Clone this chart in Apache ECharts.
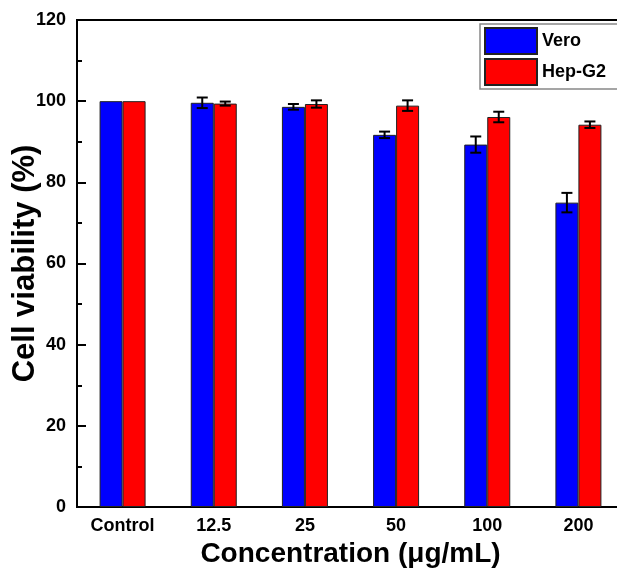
<!DOCTYPE html>
<html>
<head>
<meta charset="utf-8">
<script src="https://cdn.jsdelivr.net/npm/echarts@6/dist/echarts.min.js"></script>
<style>
  html, body { margin: 0; padding: 0; background: #fff; }
  #chart { width: 617px; height: 571px; }
</style>
</head>
<body>
<div id="chart"></div>
<script>
// Cell viability (%) of Vero and Hep-G2 cells at each concentration
const categories = ['Control', '12.5', '25', '50', '100', '200'];
const veroValues = [100, 99.6, 98.6, 91.7, 89.3, 75.0];
const veroErrors = [0, 1.3, 0.7, 0.8, 2.0, 2.4];
const hepValues = [100, 99.4, 99.3, 98.9, 96.1, 94.2];
const hepErrors = [0, 0.5, 0.9, 1.3, 1.3, 0.8];
const yTicks = { min: 0, max: 120, interval: 20 };

const FONT = '"Liberation Sans", Arial, sans-serif';
const BAR_W = 23;

function errorData(values, errors) {
  return values.map((v, i) => [i, v, errors[i]]);
}

// Draws a vertical error bar with caps, shifted to sit on its bar in the group
function errorRenderer(shift) {
  return function (params, api) {
    const err = api.value(2);
    if (!err) return null;
    const idx = api.value(0);
    const v = api.value(1);
    const hi = api.coord([idx, v + err]);
    const lo = api.coord([idx, v - err]);
    const x = hi[0] + shift;
    const cap = 5.5;
    const style = { stroke: '#000', lineWidth: 2 };
    return {
      type: 'group',
      children: [
        { type: 'line', shape: { x1: x, y1: hi[1], x2: x, y2: lo[1] }, style },
        { type: 'line', shape: { x1: x - cap, y1: hi[1], x2: x + cap, y2: hi[1] }, style },
        { type: 'line', shape: { x1: x - cap, y1: lo[1], x2: x + cap, y2: lo[1] }, style }
      ]
    };
  };
}

const chart = echarts.init(document.getElementById('chart'), null, { renderer: 'canvas' });
chart.setOption({
  animation: false,
  backgroundColor: '#fff',
  grid: {
    left: 77, top: 20, right: -7, bottom: 64,
    containLabel: false,
    outerBoundsMode: 'none',
    show: true, borderColor: '#000', borderWidth: 2, backgroundColor: 'transparent'
  },
  legend: {
    data: ['Vero', 'Hep-G2'],
    orient: 'vertical',
    left: 480, top: 24,
    itemWidth: 52, itemHeight: 26, itemGap: 3,
    padding: [3, 90, 3, 4],
    borderColor: '#888', borderWidth: 1.5,
    icon: 'rect',
    textStyle: { fontFamily: FONT, fontWeight: 'bold', fontSize: 18, color: '#000' }
  },
  xAxis: {
    type: 'category',
    data: categories,
    boundaryGap: true,
    name: 'Concentration (\u03bcg/mL)',
    nameLocation: 'middle',
    nameGap: 33,
    nameMoveOverlap: false,
    nameTextStyle: { fontFamily: FONT, fontWeight: 'bold', fontSize: 28, color: '#000' },
    axisLine: { lineStyle: { color: '#000', width: 2 } },
    axisTick: { inside: true, length: 5, lineStyle: { color: '#000', width: 1.5 } },
    axisLabel: { fontFamily: FONT, fontWeight: 'bold', fontSize: 18, color: '#000', margin: 10 },
    splitLine: { show: false }
  },
  yAxis: {
    type: 'value',
    min: yTicks.min, max: yTicks.max, interval: yTicks.interval,
    name: 'Cell viability (%)',
    nameLocation: 'middle',
    nameGap: 36,
    nameMoveOverlap: false,
    nameTextStyle: { fontFamily: FONT, fontWeight: 'bold', fontSize: 31, color: '#000' },
    axisLine: { show: true, lineStyle: { color: '#000', width: 2 } },
    axisTick: { show: true, inside: true, length: 9, lineStyle: { color: '#000', width: 2 } },
    minorTick: { show: true, splitNumber: 2, length: 5, lineStyle: { color: '#000', width: 2 } },
    axisLabel: { fontFamily: FONT, fontWeight: 'bold', fontSize: 18, color: '#000', margin: 11 },
    splitLine: { show: false }
  },
  series: [
    {
      name: 'Vero', type: 'bar', data: veroValues,
      barWidth: BAR_W, barGap: '0%',
      itemStyle: { color: '#0000ff', borderColor: '#222', borderWidth: 1 }
    },
    {
      name: 'Hep-G2', type: 'bar', data: hepValues,
      barWidth: BAR_W, barGap: '0%',
      itemStyle: { color: '#ff0000', borderColor: '#222', borderWidth: 1 }
    },
    {
      name: 'Vero error', type: 'custom', z: 5,
      renderItem: errorRenderer(-BAR_W / 2),
      data: errorData(veroValues, veroErrors)
    },
    {
      name: 'Hep-G2 error', type: 'custom', z: 5,
      renderItem: errorRenderer(BAR_W / 2),
      data: errorData(hepValues, hepErrors)
    }
  ]
});
</script>
</body>
</html>
